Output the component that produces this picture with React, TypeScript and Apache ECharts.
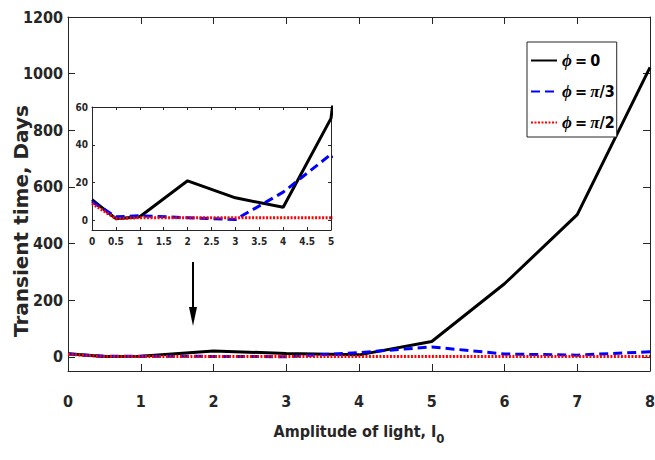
import React, { useEffect, useRef } from "react";
import * as echarts from "echarts";

const xValues = [0, 0.5, 1, 2, 3, 4, 5, 6, 7, 8];
const phi0 = [11, 1, 2, 21, 12, 7, 54, 258, 502, 1022];
const phiPi3 = [10, 2, 2.5, 1.5, 0.5, 15, 35, 10, 6, 18];
const phiPi2 = [9, 1, 1.5, 1.5, 1.5, 1.5, 1.5, 1.5, 1.5, 1.5];
const seriesNames = ["ϕ = 0", "ϕ = π/3", "ϕ = π/2"];
const mainYTicks = [0, 200, 400, 600, 800, 1000, 1200];
const insetYTicks = [0, 20, 40, 60];
const yTitle = "Transient time, Days";

const NARROW = "'DejaVu Sans Condensed', 'Liberation Sans', Arial, sans-serif";
const AX = "#262626";

const pairs = (ys: number[]) => xValues.map((x, i) => [x, ys[i]]);
const plain = (v: number) => String(v);

export default function App() {
  const ref = useRef<HTMLDivElement>(null);
  useEffect(() => {
    if (!ref.current) return;
    const chart = echarts.init(ref.current, undefined, { renderer: "svg" });
    const axisLine = { show: true, onZero: false, lineStyle: { color: AX, width: 1 } };
    const mkX = (gridIndex: number, min: number, max: number, interval: number, pos: string, labels: boolean, fontSize: number, tickLen: number, margin: number, extra: any = {}) => ({
      type: "value",
      gridIndex,
      position: pos,
      min,
      max,
      interval,
      axisLine,
      splitLine: { show: false },
      axisTick: { show: true, inside: true, length: tickLen, lineStyle: { color: AX } },
      axisLabel: { show: labels, color: AX, fontFamily: NARROW, fontWeight: "bold", fontSize, margin, showMaxLabel: true, showMinLabel: true, hideOverlap: false, formatter: plain },
      ...extra,
    });
    const mkY = (gridIndex: number, min: number, max: number, ticks: number[], pos: string, labels: boolean, fontSize: number, tickLen: number, margin: number, extra: any = {}) => ({
      type: "value",
      gridIndex,
      position: pos,
      min,
      max,
      axisLine,
      splitLine: { show: false },
      axisTick: { show: true, inside: true, length: tickLen, customValues: ticks, lineStyle: { color: AX } },
      axisLabel: { show: labels, color: AX, fontFamily: NARROW, fontWeight: "bold", fontSize, margin, customValues: ticks, formatter: plain },
      ...extra,
    });
    const styles = [
      { color: "#000000", type: "solid" as any },
      { color: "#0000ff", type: [9, 5] as any },
      { color: "#ff0000", type: [2, 1.5] as any },
    ];
    const datas = [phi0, phiPi3, phiPi2];
    const series: any[] = [];
    [0, 2].forEach((axisIdx) => {
      datas.forEach((d, i) => {
        series.push({
          type: "line",
          name: seriesNames[i],
          xAxisIndex: axisIdx,
          yAxisIndex: axisIdx,
          data: pairs(d),
          symbol: "none",
          clip: true,
          z: 3 + (axisIdx === 2 ? 10 : 0) + i,
          lineStyle: { color: styles[i].color, type: styles[i].type, width: 3 },
          itemStyle: { color: styles[i].color },
        });
      });
    });
    chart.setOption({
      animation: false,
      backgroundColor: "#ffffff",
      grid: [
        { left: 68, top: 17, width: 582, height: 354, containLabel: false, outerBoundsMode: "none" },
        { left: 92, top: 107, width: 239, height: 123, show: true, backgroundColor: "#ffffff", borderWidth: 0, z: 10, containLabel: false, outerBoundsMode: "none" },
      ],
      xAxis: [
        mkX(0, 0, 8, 1, "bottom", true, 16, 7, 22, {
          name: "Amplitude of light, I{s|0}",
          nameLocation: "middle",
          nameGap: 47,
          nameMoveOverlap: false,
          nameTextStyle: {
            color: AX,
            fontFamily: NARROW,
            fontWeight: "bold",
            fontSize: 16,
            rich: { s: { fontFamily: NARROW, fontWeight: "bold", fontSize: 13, color: AX, padding: [14, 0, 0, 0] } },
          },
        }),
        mkX(0, 0, 8, 1, "top", false, 16, 7, 16),
        mkX(1, 0, 5, 0.5, "bottom", true, 10, 3, 6, { z: 12 }),
        mkX(1, 0, 5, 0.5, "top", false, 10, 3, 6, { z: 12 }),
      ],
      yAxis: [
        mkY(0, -50, 1200, mainYTicks, "left", true, 16, 7, 5),
        mkY(0, -50, 1200, mainYTicks, "right", false, 16, 7, 5),
        mkY(1, -5, 60, insetYTicks, "left", true, 10, 3, 4, { z: 12 }),
        mkY(1, -5, 60, insetYTicks, "right", false, 10, 3, 4, { z: 12 }),
      ],
      legend: {
        data: seriesNames,
        orient: "vertical",
        left: 527,
        top: 42,
        itemWidth: 26,
        itemHeight: 12,
        itemGap: 14,
        padding: [10, 2, 6, 3],
        borderColor: AX,
        borderWidth: 1,
        backgroundColor: "#ffffff",
        itemStyle: { opacity: 0 },
        formatter: (name: string) => {
          const rest = name.replace("ϕ", "").replace(/ /g, "{sp| }").replace("π", "{i|π}");
          return "{i|ϕ}" + rest;
        },
        textStyle: {
          color: "#000",
          fontFamily: NARROW,
          fontWeight: "bold",
          fontSize: 16,
          rich: {
            i: { fontFamily: "'Liberation Serif', serif", fontStyle: "italic", fontSize: 17, color: "#000" },
            sp: { fontSize: 10 },
          },
        },
      },
      graphic: [
        {
          type: "text",
          x: 21,
          y: 337,
          rotation: Math.PI / 2,
          style: { text: yTitle, fill: AX, font: "bold 20px 'DejaVu Sans', sans-serif", align: "left", verticalAlign: "middle" },
        },
        { type: "line", shape: { x1: 193, y1: 262, x2: 193, y2: 312 }, style: { stroke: "#000", lineWidth: 2 }, z: 20 },
        { type: "polygon", shape: { points: [[189, 307], [197, 307], [193, 326]] }, style: { fill: "#000" }, z: 20 },
      ],
      series,
    });
    return () => chart.dispose();
  }, []);
  return <div ref={ref} style={{ position: "fixed", left: 0, top: 0, width: 655, height: 460 }} />;
}
